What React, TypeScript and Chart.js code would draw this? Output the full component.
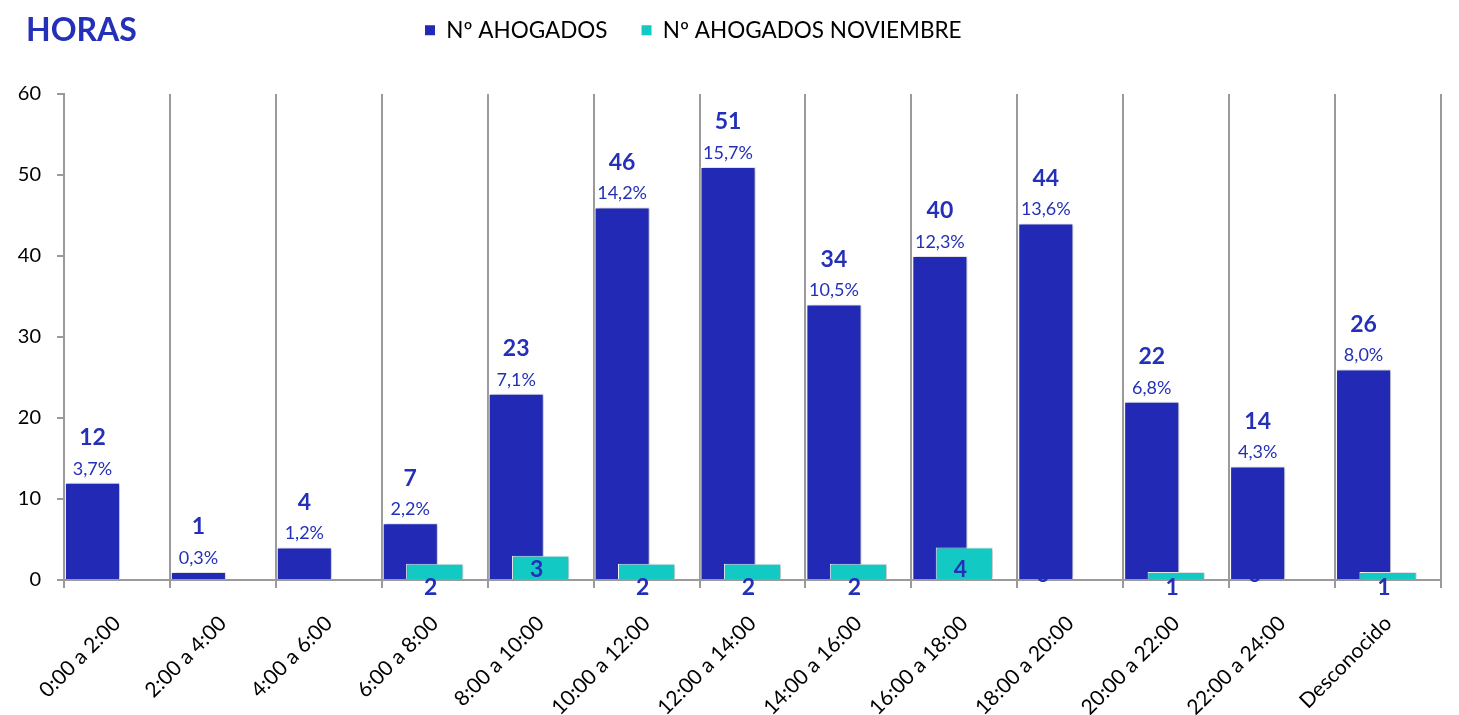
import React, { useEffect, useRef } from "react";
import { Chart, registerables } from "chart.js";

Chart.register(...registerables);

// ---------- data ----------
const categories = [
  "0:00 a 2:00",
  "2:00 a 4:00",
  "4:00 a 6:00",
  "6:00 a 8:00",
  "8:00 a 10:00",
  "10:00 a 12:00",
  "12:00 a 14:00",
  "14:00 a 16:00",
  "16:00 a 18:00",
  "18:00 a 20:00",
  "20:00 a 22:00",
  "22:00 a 24:00",
  "Desconocido",
];
const ahogados = [12, 1, 4, 7, 23, 46, 51, 34, 40, 44, 22, 14, 26];
const ahogadosPct = [3.7, 0.3, 1.2, 2.2, 7.1, 14.2, 15.7, 10.5, 12.3, 13.6, 6.8, 4.3, 8.0];
const ahogadosNoviembre: (number | null)[] = [null, null, null, 2, 3, 2, 2, 2, 4, 0, 1, 0, 1];
const yTicks = [0, 10, 20, 30, 40, 50, 60];
const seriesLabels = ["Nº AHOGADOS", "Nº AHOGADOS NOVIEMBRE"];
const chartTitle = "HORAS";

// ---------- style ----------
const BLUE = "#2129B5";
const CYAN = "#13C9C4";
const LABEL_BLUE = "#2430B8";
const GRID = "#9a9a9a";
const FONT = "Lato, 'Open Sans', sans-serif";
const BLUE_SHIFT = 0.231; // fraction of a category the blue series sits left of centre

const fmtPct = (v: number) => v.toFixed(1).replace(".", ",") + "%";

const shadowPlugin = {
  id: "barShadow",
  beforeDatasetDraw(chart: any) {
    const ctx = chart.ctx;
    ctx.save();
    ctx.shadowColor = "rgba(0,0,0,0.28)";
    ctx.shadowBlur = 4;
    ctx.shadowOffsetX = 2;
    ctx.shadowOffsetY = 0;
  },
  afterDatasetDraw(chart: any) {
    chart.ctx.restore();
  },
};

const labelPlugin = {
  id: "barLabels",
  beforeDatasetsDraw(chart: any) {
    const ctx = chart.ctx;
    const blueMeta = chart.getDatasetMeta(0);
    const base = chart.scales.y.getPixelForValue(0);
    ctx.save();
    ctx.fillStyle = LABEL_BLUE;
    ctx.font = `bold 23px ${FONT}`;
    ctx.textAlign = "center";
    ctx.textBaseline = "middle";
    ahogadosNoviembre.forEach((v, i) => {
      if (v === 0) {
        const el = blueMeta.data[i];
        ctx.fillText("0", el.x - 3, base - 5);
      }
    });
    ctx.restore();
  },
  afterDatasetsDraw(chart: any) {
    const ctx = chart.ctx;
    const blueMeta = chart.getDatasetMeta(0);
    const cyanMeta = chart.getDatasetMeta(1);
    const base = chart.scales.y.getPixelForValue(0);
    ctx.save();
    ctx.fillStyle = LABEL_BLUE;
    ctx.textAlign = "center";
    ctx.textBaseline = "middle";
    ahogados.forEach((v, i) => {
      const el = blueMeta.data[i];
      ctx.font = `bold 23px ${FONT}`;
      ctx.fillText(String(v), el.x, el.y - 45);
      ctx.font = `18px ${FONT}`;
      ctx.fillText(fmtPct(ahogadosPct[i]), el.x, el.y - 14);
    });
    ctx.font = `bold 23px ${FONT}`;
    ahogadosNoviembre.forEach((v, i) => {
      if (v === null || v === 0) return;
      const el = cyanMeta.data[i];
      const y = base - el.y > 20 ? base - 10 : base + 8;
      ctx.fillText(String(v), el.x - 4, y);
    });
    ctx.restore();
  },
};

const titlePlugin = {
  id: "leftTitle",
  afterDraw(chart: any) {
    const ctx = chart.ctx;
    ctx.save();
    ctx.fillStyle = LABEL_BLUE;
    ctx.font = `bold 32px ${FONT}`;
    ctx.textAlign = "left";
    ctx.textBaseline = "middle";
    ctx.fillText(chartTitle, 26, 31);
    ctx.restore();
  },
};

const legendPlacement = {
  id: "legendPlacement",
  beforeInit(chart: any) {
    const legend = chart.legend;
    if (!legend) return;
    const origFit = legend.fit;
    legend.fit = function () {
      origFit.call(this);
      this.height = 94;
    };
  },
  afterLayout(chart: any) {
    const legend = chart.legend;
    if (!legend) return;
    const pad = 34;
    legend.left = 425 - pad;
    legend.top = 30 - pad - 11;
  },
};

export default function App() {
  const canvasRef = useRef<HTMLCanvasElement | null>(null);

  useEffect(() => {
    if (!canvasRef.current) return;
    Chart.defaults.font.family = FONT;
    const chart = new Chart(canvasRef.current, {
      type: "bar",
      data: {
        labels: categories,
        datasets: [
          {
            label: seriesLabels[0],
            data: ahogados.map((v, i) => ({ x: i, y: v })) as any,
            backgroundColor: BLUE,
            borderColor: "#ffffff",
            borderWidth: 1,
            xAxisID: "xb",
            grouped: false,
            categoryPercentage: 1,
            barPercentage: 0.52,
            order: 1,
          } as any,
          {
            label: seriesLabels[1],
            data: ahogadosNoviembre,
            backgroundColor: CYAN,
            borderColor: "#ffffff",
            borderWidth: 1,
            xAxisID: "x",
            grouped: false,
            categoryPercentage: 1,
            barPercentage: 0.54,
            order: 0,
          } as any,
        ],
      },
      options: {
        animation: false,
        responsive: true,
        maintainAspectRatio: false,
        layout: { padding: { left: 0, right: 18, top: 0, bottom: 0 } },
        scales: {
          x: {
            type: "category",
            offset: true,
            grid: {
              offset: true,
              color: GRID,
              lineWidth: 2,
              drawTicks: true,
              tickLength: 8,
              tickColor: GRID,
            },
            border: { display: true, color: GRID, width: 2 },
            ticks: {
              autoSkip: false,
              maxRotation: 45,
              minRotation: 45,
              padding: 23,
              color: "#000",
              font: { size: 21, family: FONT },
            },
            afterFit: (s: any) => {
              s.height = 135;
            },
          },
          xb: {
            type: "linear",
            display: false,
            offset: false,
            min: -0.5 + BLUE_SHIFT,
            max: categories.length - 0.5 + BLUE_SHIFT,
            afterBuildTicks: (s: any) => {
              s.ticks = categories.map((_, i) => ({ value: i }));
            },
          },
          y: {
            min: yTicks[0],
            max: yTicks[yTicks.length - 1],
            afterBuildTicks: (s: any) => {
              s.ticks = yTicks.map((v) => ({ value: v }));
            },
            grid: {
              drawOnChartArea: false,
              drawTicks: true,
              tickLength: 7,
              color: GRID,
              tickColor: GRID,
              lineWidth: 2,
            },
            border: { display: true, color: GRID, width: 2 },
            ticks: {
              padding: 16,
              color: "#000",
              font: { size: 20, family: FONT },
            },
            afterFit: (s: any) => {
              s.width = 64;
            },
          },
        },
        plugins: {
          title: { display: false },
          tooltip: { enabled: false },
          legend: {
            display: true,
            position: "top",
            align: "start",
            labels: {
              boxWidth: 10,
              boxHeight: 10,
              padding: 34,
              color: "#000",
              font: { size: 22.5, family: FONT },
              sort: (a: any, b: any) => a.datasetIndex - b.datasetIndex,
              generateLabels: (c: any) =>
                (Chart.defaults.plugins.legend.labels as any)
                  .generateLabels(c)
                  .map((l: any) => ({ ...l, lineWidth: 0, strokeStyle: "rgba(0,0,0,0)" })),
            },
          },
        },
      } as any,
      plugins: [legendPlacement, shadowPlugin, labelPlugin, titlePlugin],
    });
    return () => chart.destroy();
  }, []);

  return (
    <div
      style={{
        position: "fixed",
        left: 0,
        top: 0,
        width: 1459,
        height: 715,
        background: "#ffffff",
      }}
    >
      <canvas ref={canvasRef} />
    </div>
  );
}
